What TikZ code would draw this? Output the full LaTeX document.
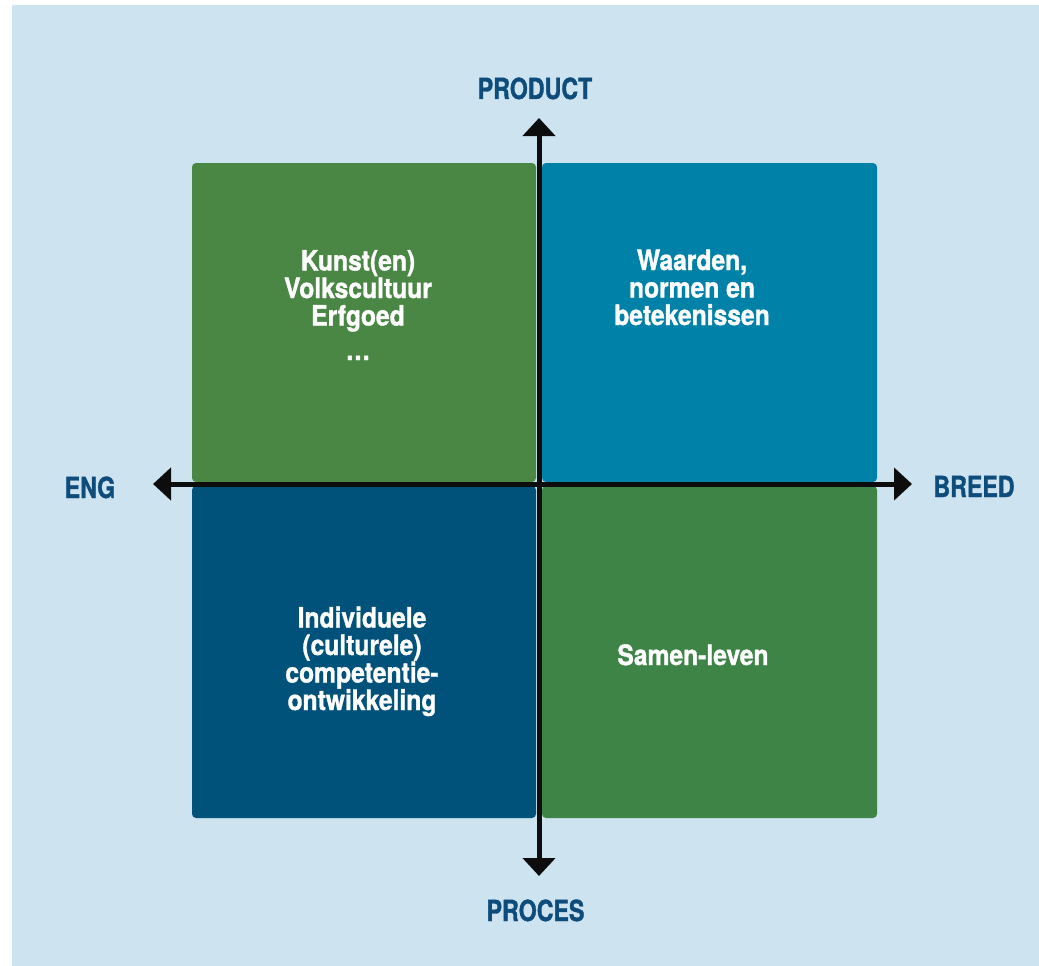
\documentclass[tikz,border=0pt]{standalone}
\usepackage{fontspec}
\newfontfamily\axisfont[FakeStretch=0.8,FakeBold=1.2]{TeX Gyre Heros}
\newfontfamily\quadfont[FakeStretch=0.88,FakeBold=1.2]{TeX Gyre Heros}
\usetikzlibrary{arrows.meta}
\definecolor{bgblue}{RGB}{205,228,240}
\definecolor{tlgreen}{RGB}{74,135,69}
\definecolor{brgreen}{RGB}{62,132,70}
\definecolor{trblue}{RGB}{0,129,168}
\definecolor{bldark}{RGB}{0,82,122}
\definecolor{labelblue}{RGB}{14,76,124}
\tikzset{
  quadbox/.style={rounded corners=4pt},
  quadtext/.style={text=white, align=center, anchor=base, inner sep=0pt,
    font=\quadfont\bfseries\fontsize{28}{27.5}\selectfont},
  axislabel/.style={text=labelblue, anchor=base, inner sep=0pt,
    font=\axisfont\bfseries\fontsize{29}{30}\selectfont},
  axisline/.style={line width=5pt, black!95,
    {Triangle[length=18pt,width=32pt]}-{Triangle[length=18pt,width=32pt]}}
}
\begin{document}
\begin{tikzpicture}[x=1pt,y=-1pt]
\useasboundingbox (0,0) rectangle (1039,966);
\fill[bgblue] (12,5) rectangle (1039,966);
% quadrants
\fill[tlgreen,quadbox] (192,163) rectangle (536,482);
\fill[trblue,quadbox] (542,163) rectangle (877,482);
\fill[bldark,quadbox] (192,486) rectangle (536,818);
\fill[brgreen,quadbox] (542,486) rectangle (877,818);
% quadrant texts (anchor = baseline of last line)
\node[quadtext] (tltext) at (358,360) {Kunst(en)\\Volkscultuur\\Erfgoed\\[7pt]\ldots};
\node[quadtext] (trtext) at (692,325) {Waarden,\\normen en\\betekenissen};
\node[quadtext] (bltext) at (362,710) {Individuele\\(culturele)\\competentie-\\ontwikkeling};
\node[quadtext] (brtext) at (693,665) {Samen-leven};
% axes
\coordinate (top) at (539,118);
\coordinate (bottom) at (539,876);
\coordinate (left) at (153,484);
\coordinate (right) at (912,484);
\draw[axisline] (bottom) -- (top);
\draw[axisline] (left) -- (right);
% axis labels
\node[axislabel] (product) at (535,99) {PRODUCT};
\node[axislabel] (proces) at (535.5,921) {PROCES};
\node[axislabel] (eng) at (90,498) {ENG};
\node[axislabel] (breed) at (974,497) {BREED};
\end{tikzpicture}
\end{document}
